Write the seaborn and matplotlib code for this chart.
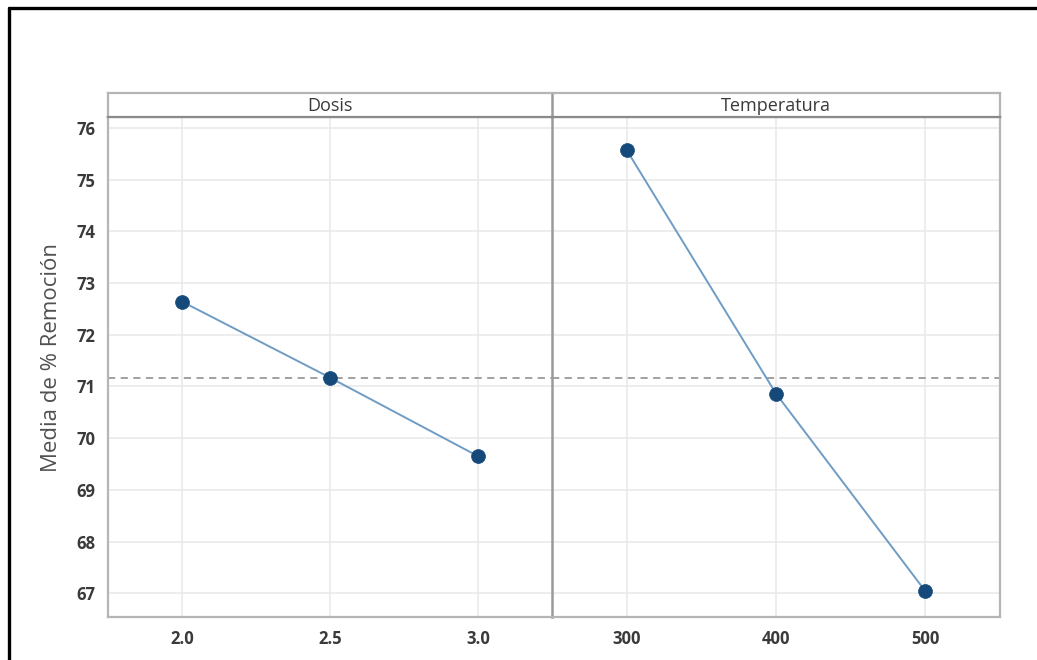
import numpy as np
import pandas as pd
import matplotlib
matplotlib.use("Agg")
import matplotlib.pyplot as plt
from matplotlib.lines import Line2D
import seaborn as sns

# ---- data ----
factors = ["Dosis", "Temperatura"]
dosis_levels = ["2.0", "2.5", "3.0"]
dosis_means = [72.64, 71.17, 69.65]
temp_levels = ["300", "400", "500"]
temp_means = [75.57, 70.86, 67.04]
y_ticks = [67, 68, 69, 70, 71, 72, 73, 74, 75, 76]
y_label = "Media de % Remoción"

rows = []
for f, levs, vals in [(factors[0], dosis_levels, dosis_means),
                      (factors[1], temp_levels, temp_means)]:
    for i, (l, v) in enumerate(zip(levs, vals)):
        rows.append({"factor": f, "level": l, "pos": i, "mean": v})
df = pd.DataFrame(rows)
grand_mean = float(np.mean(df["mean"]))

sns.set_theme(style="white")
plt.rcParams["font.family"] = ["Open Sans", "DejaVu Sans"]

W, H = 1037, 660
fig = plt.figure(figsize=(W / 100, H / 100), dpi=100)
fig.patch.set_facecolor("white")

left, right = 108 / W, 1000 / W
bottom, top = 1 - 617 / H, 1 - 117 / H
strip_h = 24 / H
gs = fig.add_gridspec(1, 2, left=left, right=right, bottom=bottom, top=top,
                      wspace=0, width_ratios=[444, 448])
axes = [fig.add_subplot(gs[0, 0])]
axes.append(fig.add_subplot(gs[0, 1], sharey=axes[0]))

line_color = "#6f9cc4"
marker_color = "#15497a"
spine_color = "#b5b5b5"
grid_color = "#e8e8e8"
tick_color = "#3a3a3a"

levels_map = {factors[0]: dosis_levels, factors[1]: temp_levels}

for k, (ax, f) in enumerate(zip(axes, factors)):
    sub = df[df["factor"] == f]
    ax.set_facecolor("white")
    sns.lineplot(data=sub, x="pos", y="mean", color=line_color, lw=1.4, ax=ax, zorder=2)
    sns.scatterplot(data=sub, x="pos", y="mean", color=marker_color, s=100,
                    edgecolor=marker_color, linewidth=0.5, ax=ax, zorder=3)
    ax.axhline(grand_mean, color="#9a9a9a", lw=1.3, ls=(0, (4, 3)), zorder=1)
    ax.set_xlim(-0.5, 2.5)
    ax.set_ylim(66.54, 76.21)
    ax.set_xticks(sub["pos"].tolist())
    ax.set_xticklabels(levels_map[f])
    ax.set_yticks(y_ticks)
    ax.grid(True, color=grid_color, lw=1.1, zorder=0)
    ax.set_axisbelow(True)
    ax.set_xlabel("")
    ax.set_ylabel("")
    for s in ax.spines.values():
        s.set_color(spine_color)
        s.set_linewidth(1.6)
    ax.tick_params(axis="both", which="both", direction="out", length=4, width=1,
                   color="#c0c0c0", labelcolor=tick_color, labelsize=12, pad=5)
    for lab in ax.get_xticklabels() + ax.get_yticklabels():
        lab.set_fontweight("bold")
    if k == 1:
        ax.tick_params(axis="y", left=False, labelleft=False)
        ax.spines["left"].set_color("#9a9a9a")
        ax.spines["left"].set_linewidth(1.8)
    if k == 0:
        ax.spines["right"].set_visible(False)

    # strip header
    pos = ax.get_position()
    sax = fig.add_axes([pos.x0, top, pos.width, strip_h])
    sax.set_xticks([])
    sax.set_yticks([])
    sax.set_facecolor("white")
    for s in sax.spines.values():
        s.set_color(spine_color)
        s.set_linewidth(1.6)
    sax.spines["bottom"].set_color("#8a8a8a")
    sax.spines["bottom"].set_linewidth(1.6)
    if k == 1:
        sax.spines["left"].set_color("#9a9a9a")
        sax.spines["left"].set_linewidth(1.8)
    if k == 0:
        sax.spines["right"].set_visible(False)
    sax.text(0.5, 0.45, f, ha="center", va="center", fontsize=13,
             color="#3a3a3a", transform=sax.transAxes)

fig.text(52 / W, 1 - 357 / H, y_label, rotation=90, ha="center", va="center",
         fontsize=16, color="#505050")

# outer frame (top and left edges visible)
fy = 1 - 8 / H
fx = 9 / W
fig.add_artist(Line2D([fx, 1.0], [fy, fy], transform=fig.transFigure,
                      color="black", lw=2.4))
fig.add_artist(Line2D([fx, fx], [0.0, fy], transform=fig.transFigure,
                      color="black", lw=2.4))

fig.savefig("out.png", dpi=100, facecolor="white")
